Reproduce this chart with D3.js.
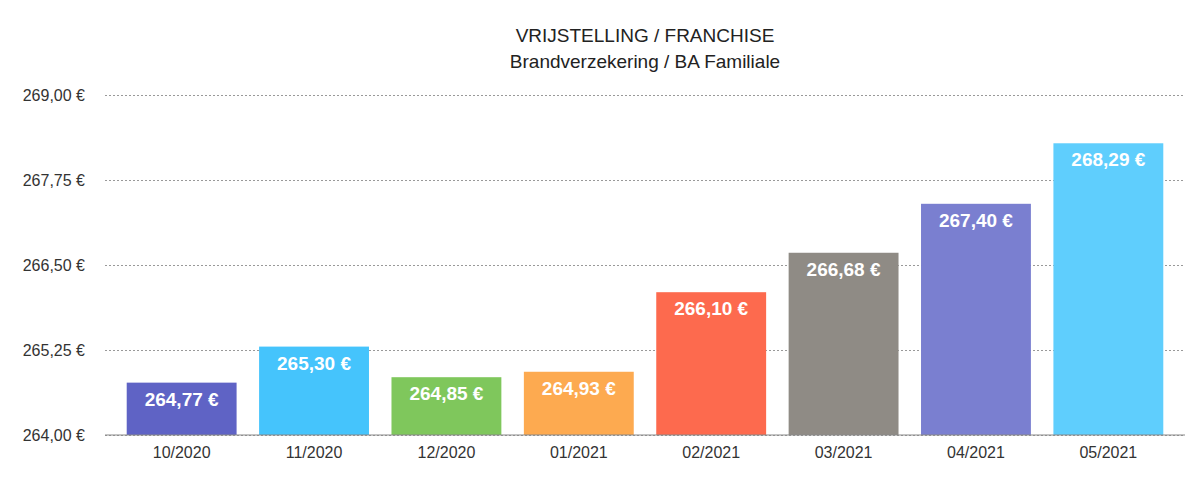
<!DOCTYPE html>
<html>
<head>
<meta charset="utf-8">
<script src="https://cdn.jsdelivr.net/npm/d3@7"></script>
<style>
  body { margin: 0; background: #fff; }
  text { font-family: "Liberation Sans", Arial, sans-serif; }
</style>
</head>
<body>
<script>
  const months = ['10/2020', '11/2020', '12/2020', '01/2021', '02/2021', '03/2021', '04/2021', '05/2021'];
  const values = [264.77, 265.30, 264.85, 264.93, 266.10, 266.68, 267.40, 268.29];
  const colors = ['#5f63c5', '#45c4fc', '#7fc75c', '#fdaa50', '#fd6a4e', '#8f8b85', '#7a7fd0', '#5fcefd'];
  const ticks = [264, 265.25, 266.5, 267.75, 269];

  const WIDTH = 1200;
  const HEIGHT = 478;
  const margin = { left: 105, right: 15, top: 95, bottom: 43 };

  const fmt = (v) => d3.format('.2f')(v).replace('.', ',') + ' €';

  const svg = d3.select('body').append('svg')
    .attr('width', WIDTH).attr('height', HEIGHT);

  const x = d3.scaleBand().domain(months)
    .range([margin.left, WIDTH - margin.right]).paddingInner(0.17).paddingOuter(0.164);
  const y = d3.scaleLinear().domain([264, 269])
    .range([HEIGHT - margin.bottom, margin.top]);

  // title
  svg.append('text').attr('x', 645).attr('y', 42).attr('text-anchor', 'middle')
    .attr('font-size', 19).attr('fill', '#222').text('VRIJSTELLING / FRANCHISE');
  svg.append('text').attr('x', 645).attr('y', 68).attr('text-anchor', 'middle')
    .attr('font-size', 19).attr('fill', '#222').text('Brandverzekering / BA Familiale');

  // grid + y labels
  const yAxis = svg.append('g').attr('transform', `translate(${margin.left},0)`)
    .call(d3.axisLeft(y).tickValues(ticks).tickFormat(fmt)
      .tickSize(-(WIDTH - margin.left - margin.right)).tickPadding(20));
  yAxis.select('.domain').remove();
  yAxis.selectAll('.tick line').attr('stroke', '#999').attr('stroke-dasharray', '2,2');
  yAxis.selectAll('.tick text').attr('font-size', 16).attr('fill', '#333')
    .attr('font-family', '"Liberation Sans", Arial, sans-serif');

  // bars
  svg.append('g').selectAll('rect').data(values).join('rect')
    .attr('x', (d, i) => x(months[i]))
    .attr('y', (d) => y(d))
    .attr('width', x.bandwidth())
    .attr('height', (d) => y(264) - y(d))
    .attr('fill', (d, i) => colors[i]);

  // baseline
  svg.append('line').attr('x1', margin.left).attr('x2', WIDTH - margin.right)
    .attr('y1', y(264)).attr('y2', y(264)).attr('stroke', '#888');

  // value labels
  svg.append('g').selectAll('text').data(values).join('text')
    .attr('x', (d, i) => x(months[i]) + x.bandwidth() / 2)
    .attr('y', (d) => y(d) + 23)
    .attr('text-anchor', 'middle').attr('font-size', 19).attr('font-weight', 'bold')
    .attr('fill', '#fff').text(fmt);

  // x labels
  const xAxis = svg.append('g').attr('transform', `translate(0,${y(264)})`)
    .call(d3.axisBottom(x).tickSize(0).tickPadding(12));
  xAxis.select('.domain').remove();
  xAxis.selectAll('.tick text').attr('font-size', 16).attr('fill', '#333')
    .attr('font-family', '"Liberation Sans", Arial, sans-serif');
</script>
</body>
</html>
